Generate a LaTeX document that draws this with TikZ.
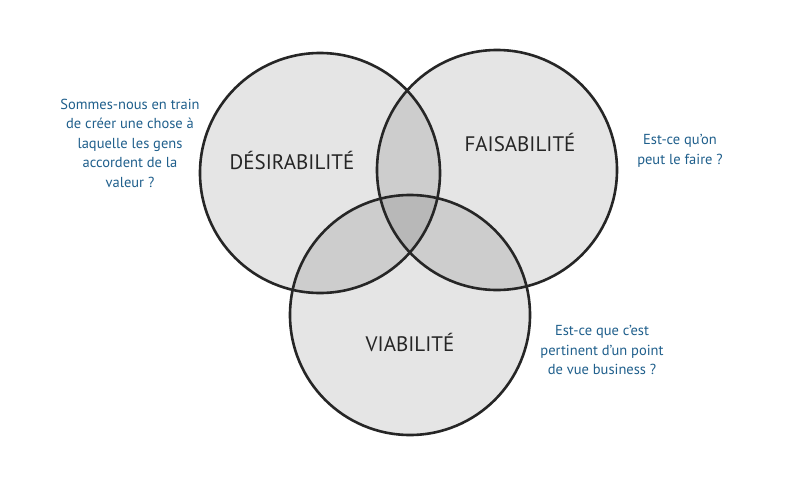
\documentclass[tikz,border=0pt]{standalone}
\usepackage{fontspec}
\setmainfont{PT Sans}
\definecolor{qblue}{HTML}{1F5F8C}
\begin{document}
\begin{tikzpicture}[x=1pt,y=-1pt,
  circ/.style={draw=black!85,line width=2.6pt},
  lab/.style={font=\fontsize{21}{24}\selectfont,text=black!85},
  q/.style={font=\fontsize{14.5}{19.5}\selectfont,text=qblue,align=center}]
\useasboundingbox (0,0) rectangle (800,479);
\fill[white] (0,0) rectangle (800,479);
\fill[black,opacity=0.1] (320,173) circle (120);
\fill[black,opacity=0.1] (497,170) circle (120);
\fill[black,opacity=0.1] (410,315) circle (120);
\draw[circ] (320,173) circle (120);
\draw[circ] (497,170) circle (120);
\draw[circ] (410,315) circle (120);
\node[lab] (d) at (292,160) {DÉSIRABILITÉ};
\node[lab] (f) at (520,142) {FAISABILITÉ};
\node[lab] (v) at (410,342) {VIABILITÉ};
\node[q] (qd) at (130,143) {Sommes-nous en train\\de créer une chose à\\laquelle les gens\\accordent de la\\valeur ?};
\node[q] (qf) at (680,151) {Est-ce qu’on\\peut le faire ?};
\node[q] (qv) at (602,350) {Est-ce que c’est\\pertinent d’un point\\de vue business ?};
\end{tikzpicture}
\end{document}
